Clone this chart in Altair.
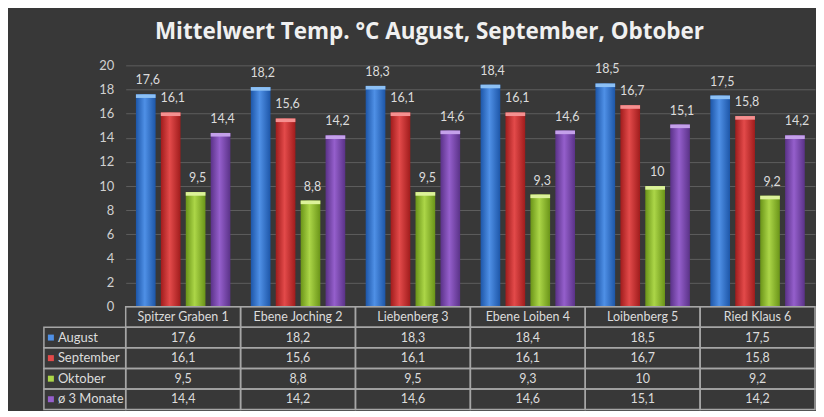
import altair as alt
import pandas as pd

cats = ["Spitzer Graben 1", "Ebene Joching 2", "Liebenberg 3",
        "Ebene Loiben 4", "Loibenberg 5", "Ried Klaus 6"]
series = ["August", "September", "Oktober", "ø 3 Monate"]
august = [17.6, 18.2, 18.3, 18.4, 18.5, 17.5]
september = [16.1, 15.6, 16.1, 16.1, 16.7, 15.8]
oktober = [9.5, 8.8, 9.5, 9.3, 10.0, 9.2]
avg3 = [14.4, 14.2, 14.6, 14.6, 15.1, 14.2]
y_ticks = [0, 2, 4, 6, 8, 10, 12, 14, 16, 18, 20]
title_text = "Mittelwert Temp. °C August, September, Obtober"

dark = ["#1d56a8", "#a01c1c", "#6a9418", "#5a3288"]
mid = ["#4f90e6", "#e34a4a", "#acd648", "#955fcc"]
light = ["#8cc0f5", "#f59090", "#dcf29a", "#c4a0ea"]

values = [august, september, oktober, avg3]
rows = []
for s, vals in zip(series, values):
    for c, v in zip(cats, vals):
        rows.append({"cat": c, "series": s, "value": v,
                     "label": f"{v:g}".replace(".", ",")})
df = pd.DataFrame(rows)

font = "Lato"
txt_color = "#dcdcdc"
border = "#a6a6a6"

X = alt.X("cat:N", scale=alt.Scale(domain=cats, paddingInner=0, paddingOuter=0), axis=None)
XO = alt.XOffset("series:N", scale=alt.Scale(domain=series, paddingInner=0.21, paddingOuter=0.41))
yaxis = alt.Axis(values=y_ticks, title=None, domain=False, ticks=False,
                 labelOverlap=False, labelPadding=12, labelColor="#d0d0d0",
                 labelFont=font, labelFontSize=13, tickCount=11,
                 gridColor="#5e5e5e", gridWidth=1)
Y = alt.Y("value:Q", scale=alt.Scale(domain=[0, 20], nice=False), axis=yaxis)

layers = []
for i, s in enumerate(series):
    grad = alt.Gradient(gradient="linear", x1=0, y1=0, x2=1, y2=0,
                        stops=[alt.GradientStop(color=dark[i], offset=0),
                               alt.GradientStop(color=mid[i], offset=0.45),
                               alt.GradientStop(color=dark[i], offset=1)])
    base = alt.Chart(df).transform_filter(alt.datum.series == s)
    layers.append(base.mark_bar(color=grad).encode(x=X, xOffset=XO, y=Y))
    layers.append(base.transform_calculate(cap="datum.value - 0.3")
                  .mark_bar(color=light[i])
                  .encode(x=X, xOffset=XO, y=Y, y2="cap:Q"))

labels = alt.Chart(df).mark_text(baseline="bottom", dy=-7, dx=2, font=font,
                                 fontSize=12.5, color=txt_color).encode(
    x=X, xOffset=XO, y=Y, text="label:N")

bars = alt.layer(*layers, labels).properties(width=691, height=242)

placeholder = alt.Chart(pd.DataFrame({"v": [0]})).mark_point(opacity=0).encode(
    y=alt.Y("v:Q", axis=None)).properties(width=82, height=242)

# table
row_keys = ["hdr"] + series
trows = []
for c in cats:
    trows.append({"cat": c, "row": "hdr", "text": c})
for s, vals in zip(series, values):
    for c, v in zip(cats, vals):
        trows.append({"cat": c, "row": s, "text": f"{v:g}".replace(".", ",")})
tdf = pd.DataFrame(trows)

TY = alt.Y("row:N", scale=alt.Scale(domain=row_keys, paddingInner=0, paddingOuter=0), axis=None)
cells = alt.Chart(tdf).mark_rect(fillOpacity=0, stroke=border, strokeWidth=1.5).encode(x=X, y=TY)
ttext = alt.Chart(tdf).mark_text(font=font, fontSize=12.5, color=txt_color).encode(
    x=X, y=TY, text="text:N")
table = alt.layer(cells, ttext).properties(width=691, height=103)

ldf = pd.DataFrame({"row": series})
lcells = alt.Chart(ldf).mark_rect(fillOpacity=0, stroke=border, strokeWidth=1.5).encode(y=TY)
lsq = alt.Chart(ldf).mark_square(size=36, opacity=1).encode(
    y=TY, x=alt.value(7),
    color=alt.Color("row:N", scale=alt.Scale(domain=series, range=mid), legend=None))
ltext = alt.Chart(ldf).mark_text(align="left", font=font, fontSize=13, color=txt_color).encode(
    y=TY, x=alt.value(14), text="row:N")
legend = alt.layer(lcells, lsq, ltext).properties(width=82, height=103)

chart = alt.concat(placeholder, bars, legend, table, columns=2, spacing=0, bounds="flush").properties(
    title=alt.Title(title_text, font="Open Sans", fontSize=22.5, fontWeight="bold",
                    color="#f0f0f0", anchor="middle", offset=16),
    padding={"left": 35, "top": 12, "right": 0, "bottom": 0},
    background="#383838",
).configure_view(strokeWidth=0)

chart.save("out.html", embed_options={"renderer": "svg", "actions": False})
